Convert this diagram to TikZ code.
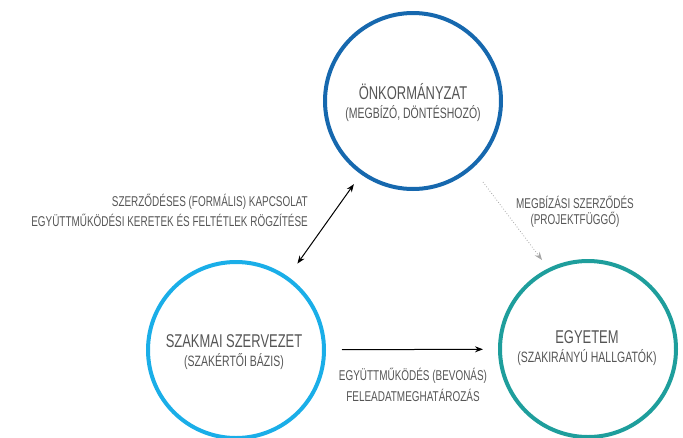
\documentclass[tikz,border=0pt]{standalone}
\usepackage{fontspec}
\setmainfont{Liberation Sans}[FakeStretch=0.7]
\usetikzlibrary{arrows.meta}
\definecolor{cTop}{RGB}{22,104,174}
\definecolor{cLeft}{RGB}{26,174,232}
\definecolor{cRight}{RGB}{30,158,156}
\definecolor{txt}{RGB}{85,85,85}
\tikzset{
  ring/.style={circle, draw, line width=4pt, minimum size=176pt, inner sep=0pt},
  ctext/.style={align=center, text=txt, inner sep=0pt, font=\fontsize{18.5}{22}\selectfont},
  lbl/.style={text=txt, font=\fontsize{14.2}{18}\selectfont, inner sep=0pt},
  blackarrow/.style={line width=1pt, draw=black, -{Stealth[length=8pt,width=6pt]}},
  dotarrow/.style={line width=0.8pt, draw=gray!70, dotted, -{Stealth[length=8pt,width=6pt,fill=gray!70]}}
}
\newcommand{\subline}{\fontsize{15}{18}\selectfont}
\begin{document}
\begin{tikzpicture}[x=1pt,y=-1pt]
\useasboundingbox (0,0) rectangle (683,437);
\node[ring, draw=cTop] (top) at (413,101) {};
\node[ring, draw=cLeft] (left) at (236,350) {};
\node[ring, draw=cRight] (right) at (588,349) {};
\node[ctext] (toptext) at (413,103) {ÖNKORMÁNYZAT\\[-3pt]\subline(MEGBÍZÓ, DÖNTÉSHOZÓ)};
\node[ctext] (lefttext) at (234,352.5) {SZAKMAI SZERVEZET\\[-3pt]\subline(SZAKÉRTŐI BÁZIS)};
\node[ctext] (righttext) at (587,348.5) {EGYETEM\\[-3pt]\subline(SZAKIRÁNYÚ HALLGATÓK)};
\draw[blackarrow, {Stealth[length=8pt,width=6pt]}-{Stealth[length=8pt,width=6pt]}, shorten <=12pt, shorten >=16pt] (top) -- (left);
\draw[blackarrow, shorten <=16pt, shorten >=15pt] (left) -- (right);
\coordinate (d1) at (483,182);
\coordinate (d2) at (542,260);
\draw[dotarrow] (d1) -- (d2);
\node[lbl, anchor=east] (l1) at (308,202) {SZERZŐDÉSES (FORMÁLIS) KAPCSOLAT};
\node[lbl, anchor=east] (l2) at (308,220) {EGYÜTTMŰKÖDÉSI KERETEK ÉS FELTÉTLEK RÖGZÍTÉSE};
\node[lbl] (r1) at (575,202) {MEGBÍZÁSI SZERZŐDÉS};
\node[lbl] (r2) at (575,220) {(PROJEKTFÜGGŐ)};
\node[lbl] (b1) at (413,376) {EGYÜTTMŰKÖDÉS (BEVONÁS)};
\node[lbl] (b2) at (413,395) {FELEADATMEGHATÁROZÁS};
\end{tikzpicture}
\end{document}
